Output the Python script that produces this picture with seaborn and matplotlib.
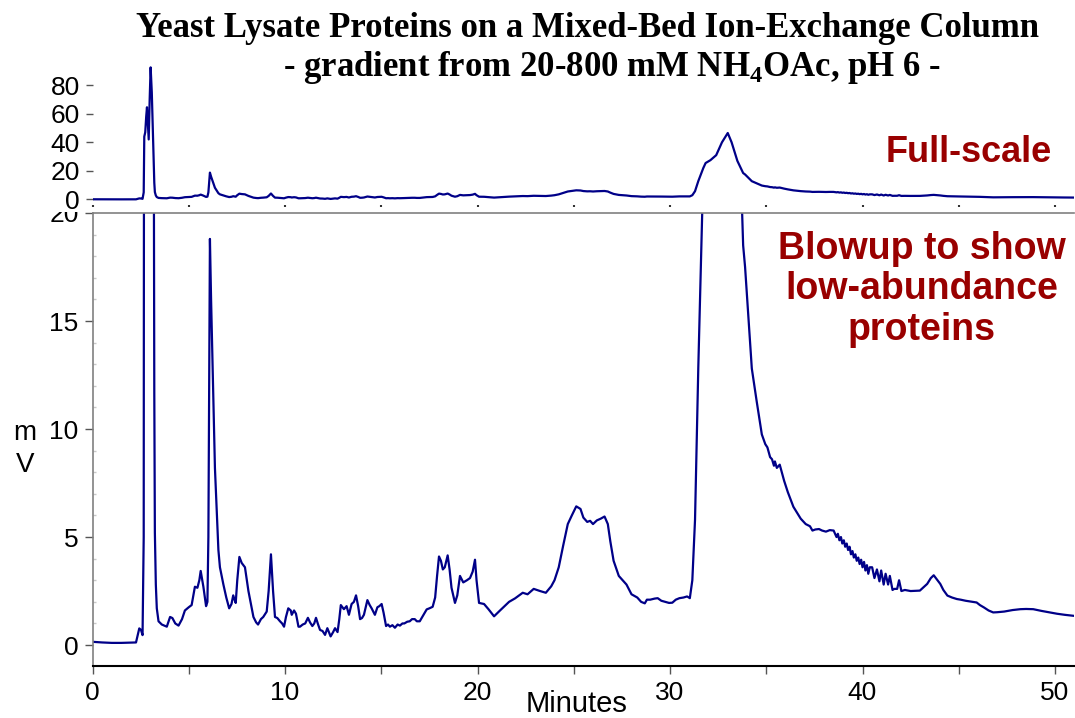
import matplotlib
matplotlib.use("Agg")
import matplotlib.pyplot as plt
import matplotlib.ticker as mticker
from matplotlib.patches import Rectangle
import pandas as pd
import seaborn as sns

# Chromatogram trace (minutes, mV)
time_min = [
    0.0, 0.5, 1.0, 1.5, 2.0, 2.26, 2.36, 2.43, 2.52, 2.6,
    2.66, 2.69, 2.74, 2.79, 2.83, 2.88, 2.92, 2.97, 3.02, 3.08,
    3.13, 3.17, 3.21, 3.24, 3.29, 3.34, 3.43, 3.6, 3.86, 4.03,
    4.15, 4.3, 4.47, 4.65, 4.8, 5.0, 5.15, 5.32, 5.45, 5.55,
    5.62, 5.7, 5.76, 5.9, 5.97, 6.02, 6.06, 6.1, 6.16, 6.24,
    6.36, 6.54, 6.62, 6.8, 6.95, 7.1, 7.22, 7.31, 7.38, 7.44,
    7.52, 7.63, 7.75, 7.92, 8.1, 8.25, 8.36, 8.5, 8.6, 8.75,
    8.87, 9.05, 9.15, 9.27, 9.38, 9.48, 9.6, 9.74, 9.85, 9.95,
    10.05, 10.17, 10.3, 10.35, 10.47, 10.57, 10.7, 10.78, 10.92, 11.05,
    11.19, 11.3, 11.42, 11.52, 11.61, 11.72, 11.82, 11.95, 12.08, 12.2,
    12.37, 12.5, 12.6, 12.73, 12.82, 12.9, 13.06, 13.2, 13.32, 13.46,
    13.58, 13.69, 13.8, 13.9, 14.0, 14.1, 14.28, 14.4, 14.5, 14.67,
    14.8, 14.9, 15.02, 15.12, 15.25, 15.35, 15.45, 15.58, 15.71, 15.85,
    15.97, 16.1, 16.2, 16.35, 16.48, 16.6, 16.74, 16.85, 17.0, 17.2,
    17.36, 17.5, 17.67, 17.8, 17.9, 18.0, 18.1, 18.2, 18.3, 18.45,
    18.55, 18.65, 18.83, 18.95, 19.09, 19.26, 19.45, 19.61, 19.75, 19.87,
    19.95, 20.08, 20.34, 20.57, 20.86, 21.17, 21.64, 21.95, 22.35, 22.6,
    22.92, 23.25, 23.55, 23.83, 24.0, 24.22, 24.45, 24.69, 24.9, 25.13,
    25.35, 25.5, 25.7, 25.85, 26.0, 26.2, 26.4, 26.6, 26.77, 26.9,
    27.07, 27.34, 27.74, 28.0, 28.3, 28.5, 28.69, 28.8, 28.97, 29.2,
    29.36, 29.55, 29.74, 29.95, 30.12, 30.3, 30.49, 30.7, 30.89, 31.03,
    31.16, 31.3, 31.47, 31.6, 31.73, 31.85, 32.1, 32.4, 32.7, 33.0,
    33.2, 33.5, 33.8, 33.9, 34.07, 34.25, 34.5, 34.77, 34.95, 35.06,
    35.2, 35.3, 35.4, 35.45, 35.55, 35.7, 35.93, 36.12, 36.41, 36.79,
    37.05, 37.27, 37.4, 37.55, 37.74, 37.9, 38.1, 38.3, 38.5, 38.65,
    38.72, 38.8, 38.88, 38.95, 39.03, 39.1, 39.18, 39.25, 39.33, 39.4,
    39.48, 39.55, 39.63, 39.7, 39.78, 39.85, 39.93, 40.0, 40.08, 40.15,
    40.23, 40.3, 40.38, 40.5, 40.62, 40.75, 40.88, 40.97, 41.1, 41.2,
    41.33, 41.42, 41.56, 41.65, 41.8, 41.9, 42.02, 42.2, 42.5, 42.98,
    43.2, 43.36, 43.55, 43.7, 43.85, 44.04, 44.2, 44.41, 44.65, 44.9,
    45.1, 45.36, 45.7, 45.93, 46.1, 46.31, 46.55, 46.79, 47.0, 47.36,
    47.8, 48.2, 48.5, 48.87, 49.3, 49.74, 50.1, 50.5, 51.0,
]
signal_mv = [
    0.15, 0.12, 0.1, 0.1, 0.11, 0.12, 0.5, 0.77, 0.7, 0.46,
    5.0, 44.0, 47.0, 58.0, 64.5, 52.0, 42.0, 70.0, 92.4, 75.0,
    51.0, 30.0, 11.7, 5.2, 2.8, 1.7, 1.1, 0.95, 0.85, 1.3,
    1.25, 1.0, 0.9, 1.2, 1.6, 1.75, 1.85, 2.7, 2.65, 3.0,
    3.43, 3.0, 2.7, 1.8, 2.0, 5.0, 12.0, 18.8, 16.0, 12.85,
    8.2, 4.4, 3.6, 2.8, 2.2, 1.7, 1.9, 2.3, 2.1, 1.95,
    3.0, 4.08, 3.8, 3.6, 2.5, 1.8, 1.3, 1.05, 0.95, 1.2,
    1.3, 1.55, 2.5, 4.2, 2.5, 1.3, 1.25, 1.1, 1.0, 0.85,
    1.3, 1.7, 1.6, 1.4, 1.6, 1.45, 0.85, 0.85, 0.95, 1.0,
    1.26, 1.05, 0.88, 1.0, 1.26, 0.95, 0.7, 0.65, 0.47, 0.78,
    0.4, 0.6, 0.78, 0.6, 1.2, 1.85, 1.66, 1.8, 1.4, 1.9,
    2.0, 2.3, 1.8, 1.2, 1.25, 1.4, 2.08, 1.85, 1.7, 1.4,
    1.75, 1.8, 1.9, 1.5, 0.88, 0.95, 0.85, 0.92, 0.8, 0.95,
    0.9, 1.0, 1.0, 1.08, 1.1, 1.2, 1.2, 1.1, 1.1, 1.4,
    1.65, 1.7, 1.77, 2.2, 3.2, 4.1, 3.9, 3.5, 3.6, 4.15,
    3.5, 2.65, 1.95, 2.3, 3.2, 2.9, 3.0, 3.1, 3.4, 3.95,
    3.0, 1.95, 1.9, 1.66, 1.33, 1.6, 2.0, 2.16, 2.42, 2.35,
    2.6, 2.5, 2.42, 2.72, 3.0, 3.6, 4.6, 5.6, 6.0, 6.42,
    6.3, 5.9, 5.7, 5.75, 5.6, 5.77, 5.85, 5.95, 5.6, 4.8,
    3.9, 3.2, 2.8, 2.35, 2.2, 2.0, 1.93, 2.1, 2.1, 2.15,
    2.17, 2.05, 2.0, 1.95, 1.96, 2.1, 2.17, 2.2, 2.25, 2.17,
    3.0, 5.8, 12.85, 17.5, 22.0, 25.5, 27.5, 31.0, 40.0, 46.5,
    40.0, 27.0, 18.5, 17.5, 15.2, 12.8, 11.3, 9.75, 9.3, 9.15,
    8.7, 8.6, 8.3, 8.5, 8.2, 8.35, 7.6, 7.08, 6.4, 5.85,
    5.6, 5.5, 5.3, 5.35, 5.37, 5.3, 5.25, 5.32, 5.3, 5.0,
    5.15, 4.85, 5.0, 4.7, 4.85, 4.55, 4.7, 4.4, 4.55, 4.2,
    4.35, 4.05, 4.2, 3.9, 4.05, 3.75, 3.95, 3.6, 3.85, 3.45,
    3.7, 3.3, 3.6, 3.6, 3.1, 3.5, 2.95, 3.45, 2.8, 3.3,
    2.8, 3.2, 2.55, 2.6, 2.6, 3.0, 2.5, 2.55, 2.5, 2.52,
    2.7, 2.83, 3.1, 3.23, 3.05, 2.83, 2.55, 2.29, 2.2, 2.13,
    2.1, 2.05, 2.0, 1.97, 1.85, 1.74, 1.6, 1.51, 1.52, 1.55,
    1.62, 1.66, 1.67, 1.66, 1.58, 1.51, 1.45, 1.4, 1.35,
]

full_yticks = [0, 20, 40, 60, 80]
blowup_yticks = [0, 5, 10, 15, 20]

title_line1 = "Yeast Lysate Proteins on a Mixed-Bed Ion-Exchange Column"
title_line2 = r"- gradient from 20-800 mM NH$_\mathregular{4}$OAc, pH 6 -"

trace = pd.DataFrame({"Minutes": time_min, "mV": signal_mv})

sns.set_style("white")
plt.rcParams["font.family"] = ["Liberation Sans", "DejaVu Sans"]
plt.rcParams["text.color"] = "black"
plt.rcParams["axes.labelcolor"] = "black"
plt.rcParams["xtick.color"] = "black"
plt.rcParams["ytick.color"] = "black"

line_color = "#000088"
label_red = "#990000"
W, H = 1075, 718

fig = plt.figure(figsize=(W / 100, H / 100), dpi=100)

# lower panel: blown-up scale
ax = fig.add_axes([92.5 / W, 1 - 666 / H, 981.75 / W, 453 / H])
sns.lineplot(data=trace, x="Minutes", y="mV", ax=ax, color=line_color,
             linewidth=1.6, estimator=None, sort=False)
ax.set_xlim(0, 51)
ax.set_ylim(-0.97, 19.95)
ax.set_yticks(blowup_yticks)
ax.xaxis.set_major_locator(mticker.MultipleLocator(5))
ax.xaxis.set_minor_locator(mticker.MultipleLocator(1))
ax.xaxis.set_major_formatter(
    mticker.FuncFormatter(lambda v, p: f"{v:.0f}" if v % 10 == 0 else ""))
ax.yaxis.set_minor_locator(mticker.MultipleLocator(1))
ax.tick_params(axis="both", which="both", bottom=True, left=True)
ax.tick_params(axis="both", which="major", labelsize=19, length=6, width=1,
               color="#555555", labelcolor="black", direction="out")
ax.tick_params(axis="x", which="major", pad=5)
ax.tick_params(axis="y", which="major", pad=4)
ax.tick_params(axis="x", which="minor", direction="inout", length=3,
               width=1.3, color="white")
ax.tick_params(axis="y", which="minor", direction="in", length=2.5,
               width=1, color="#c8c8c8")
ax.spines["right"].set_visible(False)
ax.spines["top"].set_color("#808080")
ax.spines["left"].set_color("#808080")
ax.spines["bottom"].set_color("black")
ax.spines["bottom"].set_linewidth(1.5)
ax.spines["left"].set_linewidth(1.2)
ax.spines["top"].set_linewidth(1.2)
ax.set_ylabel("")
ax.set_xlabel("Minutes", fontsize=21)
ax.xaxis.set_label_coords((577 - 92.5) / 981.75, -0.052)
ax.xaxis.label.set_va("top")

# hide top of the "20" label like the reference
fig.add_artist(Rectangle((0.03, 1 - 212 / H), 0.055, 8 / H,
                         transform=fig.transFigure, facecolor="white",
                         edgecolor="none", zorder=0.5))

# upper panel: full scale
ax_top = fig.add_axes([92.5 / W, 1 - 205 / H, 981.75 / W, 140 / H])
ax_top.set_zorder(1)
ax_top.patch.set_alpha(0)
sns.lineplot(data=trace, x="Minutes", y="mV", ax=ax_top, color=line_color,
             linewidth=1.6, estimator=None, sort=False)
ax_top.set_xlim(0, 51)
ax_top.set_ylim(-3.85, 94.06)
ax_top.set_yticks(full_yticks)
ax_top.xaxis.set_major_locator(mticker.MultipleLocator(5))
ax_top.tick_params(axis="both", which="major", bottom=True, left=True)
ax_top.tick_params(axis="x", which="major", labelbottom=False, length=1.5,
                   width=1.5, color="#333333", direction="out")
ax_top.tick_params(axis="y", which="major", labelsize=19, length=5, width=1,
                   color="#555555", labelcolor="black", pad=4,
                   direction="out")
for side in ["top", "right", "left", "bottom"]:
    ax_top.spines[side].set_visible(False)
ax_top.set_xlabel("")
ax_top.set_ylabel("")

# axis label and annotations
fig.text(25 / W, 1 - 449 / H, "m\nV", fontsize=20, ha="center", va="center",
         linespacing=1.25)
fig.text(1052 / W, 1 - 162 / H, "Full-scale", fontsize=26, weight="bold",
         color=label_red, ha="right", va="baseline")
fig.text(922 / W, 1 - 231 / H, "Blowup to show\nlow-abundance\nproteins",
         fontsize=27, weight="bold", color=label_red, ha="center", va="top",
         multialignment="center", linespacing=1.16)

fig.text(588 / W, 1 - 37 / H, title_line1, fontsize=25, weight="bold",
         family="Liberation Serif", ha="center", va="baseline")
fig.text(612 / W, 1 - 76 / H, title_line2, fontsize=25, weight="bold",
         family="Liberation Serif", ha="center", va="baseline")

fig.savefig("out.png", dpi=100)
